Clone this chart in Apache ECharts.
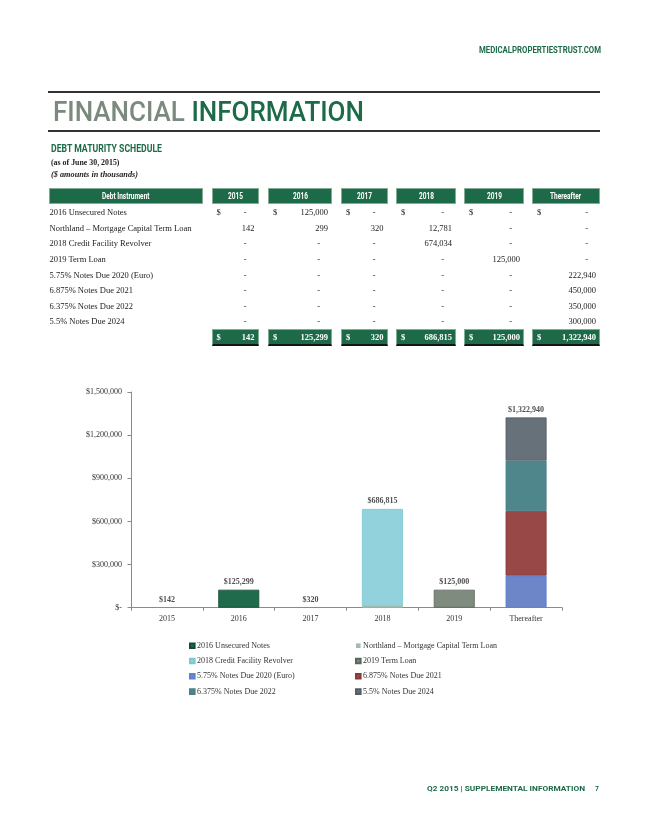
<!DOCTYPE html>
<html><head><meta charset="utf-8">
<script src="https://cdn.jsdelivr.net/npm/echarts@6/dist/echarts.min.js"></script>
<style>
html,body{margin:0;padding:0;background:#fff;width:649px;height:840px;overflow:hidden;}
#chart{position:absolute;left:0;top:0;width:649px;height:840px;}
#page{position:absolute;left:0;top:0;width:649px;height:840px;}
.t{position:absolute;white-space:nowrap;}
.box{position:absolute;box-sizing:border-box;}
</style></head><body>
<div id="chart"></div>
<div id="page"></div>
<script>
// ---------- DATA ----------
const categories = ['2015', '2016', '2017', '2018', '2019', 'Thereafter'];
const tableHeaders = ['Debt Instrument', '2015', '2016', '2017', '2018', '2019', 'Thereafter'];
const seriesNames = [
  '2016 Unsecured Notes',
  'Northland \u2013 Mortgage Capital Term Loan',
  '2018 Credit Facility Revolver',
  '2019 Term Loan',
  '5.75% Notes Due 2020 (Euro)',
  '6.875% Notes Due 2021',
  '6.375% Notes Due 2022',
  '5.5% Notes Due 2024'
];
const unsecured2016   = [0, 125000, 0, 0, 0, 0];
const northland       = [142, 299, 320, 12781, 0, 0];
const creditRevolver  = [0, 0, 0, 674034, 0, 0];
const termLoan2019    = [0, 0, 0, 0, 125000, 0];
const notes2020Euro   = [0, 0, 0, 0, 0, 222940];
const notes2021       = [0, 0, 0, 0, 0, 450000];
const notes2022       = [0, 0, 0, 0, 0, 350000];
const notes2024       = [0, 0, 0, 0, 0, 300000];
const yTicks = [0, 300000, 600000, 900000, 1200000, 1500000];

const allSeries = [unsecured2016, northland, creditRevolver, termLoan2019, notes2020Euro, notes2021, notes2022, notes2024];
const totals = categories.map((c, i) => allSeries.reduce((s, a) => s + a[i], 0));

// ---------- STYLES ----------
const GREEN = '#1d6a48';
const fills   = ['#1f6b4b', '#a3bcb0', '#92d2dd', '#7f8b7e', '#6c86c7', '#984846', '#4e868b', '#66717a'];
const borders = ['#124d33', null, '#7fc6d3', '#5b665a', '#5f7fd2', '#883a38', '#4a8086', '#525d66'];
const SERIF = '"Liberation Serif", "Times New Roman", serif';
const SANS = 'Roboto, "Liberation Sans", sans-serif';
const fmt = v => v.toLocaleString('en-US');

// ---------- PAGE TEXT / TABLE ----------
const page = document.getElementById('page');
function text(str, o) {
  const el = document.createElement('div');
  el.className = 't';
  el.textContent = str;
  el.style.fontFamily = o.family || SERIF;
  el.style.fontSize = o.fs + 'px';
  el.style.lineHeight = o.fs + 'px';
  el.style.fontWeight = o.bold ? 'bold' : 'normal';
  if (o.italic) el.style.fontStyle = 'italic';
  el.style.color = o.color || '#222';
  el.style.top = (o.yc - 0.5 * o.fs) + 'px';
  page.appendChild(el);
  let w = el.getBoundingClientRect().width;
  let s = o.scale || 1;
  if (o.width) s = o.width / w;
  const vw = w * s;
  let left;
  if (o.align === 'right') left = o.x - vw;
  else if (o.align === 'center') left = o.x - vw / 2;
  else left = o.x;
  el.style.left = left + 'px';
  el.style.transformOrigin = '0 50%';
  if (s !== 1) el.style.transform = 'scaleX(' + s + ')';
  return el;
}
function box(x, y, w, h, css) {
  const el = document.createElement('div');
  el.className = 'box';
  el.style.left = x + 'px'; el.style.top = y + 'px';
  el.style.width = w + 'px'; el.style.height = h + 'px';
  Object.assign(el.style, css || {});
  page.appendChild(el);
  return el;
}

// header
text('MEDICALPROPERTIESTRUST.COM', {family: SANS, fs: 8.5, bold: true, color: GREEN, x: 601, yc: 50.3, align: 'right', width: 122});
box(48, 91, 552, 1.6, {background: '#333'});
box(48, 130.3, 552, 1.6, {background: '#333'});
const title = document.createElement('div');
title.className = 't';
title.style.fontFamily = SANS; title.style.fontSize = '28px'; title.style.lineHeight = '28px'; title.style.fontWeight = '500';
title.innerHTML = '<span style="color:#7b8a7d">FINANCIAL</span> <span style="color:' + GREEN + '">INFORMATION</span>';
title.style.top = (101.7 - 0.13 * 28) + 'px';
title.style.left = '53px';
page.appendChild(title);
{ const w = title.getBoundingClientRect().width; title.style.transformOrigin = '0 50%'; title.style.transform = 'scaleX(' + (311 / w) + ')'; }

text('DEBT MATURITY SCHEDULE', {family: SANS, fs: 11, bold: true, color: GREEN, x: 50.5, yc: 148.2, width: 111});
text('(as of June 30, 2015)', {fs: 8.3, bold: true, color: '#222', x: 50.5, yc: 163.3, width: 68.5});
text('($ amounts in thousands)', {fs: 8.3, bold: true, italic: true, color: '#222', x: 50.5, yc: 175.3, width: 87});

// table columns
const colX = [[48.5, 203], [211.5, 258.5], [268, 332], [341, 387.5], [396, 456], [464, 524], [532, 600]];
const headTop = 188.3, headH = 15.7;
tableHeaders.forEach((h, i) => {
  const [a, b] = colX[i];
  box(a, headTop, b - a, headH, {background: GREEN, border: '1px solid #86ab97'});
  text(h, {family: SANS, fs: 8.6, bold: true, color: '#fff', x: (a + b) / 2, yc: headTop + headH / 2, align: 'center', scale: 0.76});
});
const rowY0 = 212.4, rowDY = 15.62;
seriesNames.forEach((name, r) => {
  const yc = rowY0 + r * rowDY;
  text(name, {fs: 8.5, color: '#222', x: 49.5, yc: yc});
  const vals = allSeries[r];
  vals.forEach((v, c) => {
    const [a, b] = colX[c + 1];
    if (r === 0) text('$', {fs: 8.5, color: '#222', x: a + 5, yc: yc});
    if (v === 0) text('-', {fs: 8.5, color: '#222', x: b - 12, yc: yc, align: 'right'});
    else text(fmt(v), {fs: 8.5, color: '#222', x: b - 4, yc: yc, align: 'right'});
  });
});
// totals row
const totTop = 329.3, totH = 17;
totals.forEach((v, c) => {
  const [a, b] = colX[c + 1];
  box(a, totTop, b - a, totH, {background: GREEN, borderTop: '1px solid #86ab97', borderLeft: '1px solid #86ab97', borderRight: '1px solid #86ab97', borderBottom: '2px solid #151515'});
  text('$', {fs: 8.5, bold: true, color: '#fff', x: a + 5, yc: totTop + 7.6});
  text(fmt(v), {fs: 8.5, bold: true, color: '#fff', x: b - 4, yc: totTop + 7.6, align: 'right'});
});

// footer
text('Q2 2015 | SUPPLEMENTAL INFORMATION', {family: SANS, fs: 8, bold: true, color: GREEN, x: 426.5, yc: 789.3, width: 158});
text('7', {family: SANS, fs: 8, bold: true, color: GREEN, x: 597.3, yc: 789.3, align: 'center', scale: 0.85});

// ---------- CHART ----------
const chart = echarts.init(document.getElementById('chart'), null, {renderer: 'canvas'});
const barSeries = seriesNames.map((name, i) => ({
  name: name,
  type: 'bar',
  stack: 'debt',
  barWidth: 41,
  data: allSeries[i].map(v => v === 0 ? null : v),
  itemStyle: {color: fills[i], borderColor: borders[i] || fills[i], borderWidth: borders[i] ? 0.8 : 0},
  emphasis: {disabled: true}
}));
const legendStyle = {
  orient: 'vertical', itemWidth: 4.6, itemHeight: 4.6, itemGap: 5.3, icon: 'rect',
  textStyle: {fontFamily: SERIF, fontSize: 8, color: '#333', lineHeight: 10, padding: [0, 0, 0, -2.5]},
  selectedMode: false, top: 635.7
};
chart.setOption({
  animation: false,
  backgroundColor: 'transparent',
  grid: {left: 131, right: 87, top: 392, bottom: 232.3, containLabel: false},
  xAxis: {
    type: 'category', data: categories,
    axisLine: {lineStyle: {color: '#8a8a8a', width: 1}},
    axisTick: {show: true, alignWithLabel: false, length: 3, lineStyle: {color: '#8a8a8a'}},
    axisLabel: {fontFamily: SERIF, fontSize: 8, color: '#333', margin: 7}
  },
  yAxis: {
    type: 'value', min: yTicks[0], max: yTicks[yTicks.length - 1], interval: yTicks[1] - yTicks[0],
    splitLine: {show: false},
    axisLine: {show: true, lineStyle: {color: '#8a8a8a', width: 1}},
    axisTick: {show: true, length: 3.5, lineStyle: {color: '#8a8a8a'}},
    axisLabel: {fontFamily: SERIF, fontSize: 8, color: '#333', margin: 9,
      formatter: v => v === 0 ? '$-' : '$' + fmt(v)}
  },
  legend: [
    Object.assign({left: 184, data: [seriesNames[0], seriesNames[2], seriesNames[4], seriesNames[6]]}, legendStyle),
    Object.assign({left: 350, data: [seriesNames[1], seriesNames[3], seriesNames[5], seriesNames[7]]}, legendStyle)
  ],
  series: barSeries.concat([{
    name: 'Total', type: 'scatter', data: totals, symbolSize: 1, silent: true, z: 10,
    itemStyle: {color: 'rgba(0,0,0,0)'},
    label: {show: true, position: 'top', distance: 3.5, fontFamily: SERIF, fontSize: 8, fontWeight: 'bold', color: '#222',
      formatter: p => '$' + fmt(p.value)}
  }])
});
</script>
</body></html>
